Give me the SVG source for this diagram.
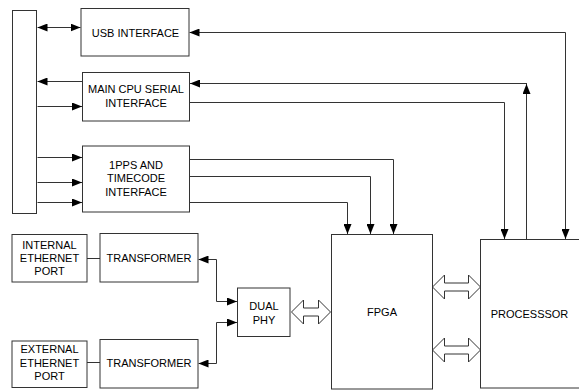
<svg xmlns="http://www.w3.org/2000/svg" width="579" height="390" viewBox="0 0 579 390">
  <defs>
    <marker id="ah" viewBox="0 0 10 8" markerUnits="userSpaceOnUse" markerWidth="10" markerHeight="8" refX="10" refY="4" orient="auto-start-reverse">
      <path d="M0,0 L10,4 L0,8 z" fill="#000"/>
    </marker>
  </defs>
  <style>
    rect { fill: #fff; stroke: #333; stroke-width: 1; }
    text { font-family: "Liberation Sans", Arial, sans-serif; font-size: 11px; fill: #000; text-anchor: middle; }
    .w { fill: none; stroke: #333; stroke-width: 1; }
    .a { marker-end: url(#ah); }
    .b { marker-start: url(#ah); marker-end: url(#ah); }
    .blk { fill: #fff; stroke: #333; stroke-width: 1; stroke-linejoin: miter; }
  </style>
  <rect width="579" height="390" style="fill:#fff;stroke:none"/>

  <!-- connectors -->
  <g id="connectors">
    <!-- bus links -->
    <path class="w b" d="M37.5,27.5 H80.5"/>
    <path class="w a" d="M82,81.5 H37.5"/>
    <path class="w a" d="M37.5,106.5 H82"/>
    <path class="w a" d="M37.5,157.5 H82"/>
    <path class="w a" d="M37.5,182.5 H82"/>
    <path class="w a" d="M37.5,202.5 H82"/>
    <!-- processor links -->
    <path class="w b" d="M189.5,32.5 H565.5 V239"/>
    <path class="w a" d="M526.5,239 V84"/>
    <path class="w a" d="M527,83.5 H190"/>
    <path class="w a" d="M190,102.5 H504.5 V239"/>
    <!-- timing to FPGA -->
    <path class="w a" d="M190,159.5 H393.5 V234"/>
    <path class="w a" d="M190,176.5 H370.5 V234"/>
    <path class="w a" d="M190,202.5 H347.5 V234"/>
    <!-- ethernet -->
    <path class="w" d="M87,258.5 H100"/>
    <path class="w" d="M87,362.5 H100"/>
    <path class="w b" d="M198.5,259.5 H216.5 V301.5 H237"/>
    <path class="w b" d="M198.5,363.5 H216.5 V322.5 H237"/>
    <!-- buses -->
    <polygon class="blk" points="291.5,312 303.5,300 303.5,308 318.5,308 318.5,300 330.5,312 318.5,324 318.5,316 303.5,316 303.5,324"/>
    <polygon class="blk" points="432.5,287 444.5,275 444.5,283 468.5,283 468.5,275 480.5,287 468.5,299 468.5,291 444.5,291 444.5,299"/>
    <polygon class="blk" points="432.5,350 444.5,338 444.5,346 468.5,346 468.5,338 480.5,350 468.5,362 468.5,354 444.5,354 444.5,362"/>
  </g>

  <g id="bus">
    <rect x="12.5" y="10.5" width="24" height="203"/>
  </g>
  <g id="usb">
    <rect x="81" y="8.5" width="108" height="47.5"/>
    <text x="135.5" y="36.5">USB INTERFACE</text>
  </g>
  <g id="cpu-serial">
    <rect x="82.5" y="72.5" width="107" height="48.5"/>
    <text x="136" y="93">MAIN CPU SERIAL</text>
    <text x="136" y="106.5">INTERFACE</text>
  </g>
  <g id="pps">
    <rect x="82.5" y="146" width="107" height="66"/>
    <text x="136" y="168.5">1PPS AND</text>
    <text x="136" y="182">TIMECODE</text>
    <text x="136" y="195.5">INTERFACE</text>
  </g>
  <g id="int-port">
    <rect x="12" y="234.5" width="75" height="47.5"/>
    <text x="49.5" y="249">INTERNAL</text>
    <text x="49.5" y="262">ETHERNET</text>
    <text x="49.5" y="275">PORT</text>
  </g>
  <g id="xfmr1">
    <rect x="100" y="233.5" width="98" height="48.5"/>
    <text x="149" y="262">TRANSFORMER</text>
  </g>
  <g id="ext-port">
    <rect x="12" y="341" width="75" height="46.5"/>
    <text x="49.5" y="353">EXTERNAL</text>
    <text x="49.5" y="366.5">ETHERNET</text>
    <text x="49.5" y="379.5">PORT</text>
  </g>
  <g id="xfmr2">
    <rect x="100" y="339.5" width="98" height="48.5"/>
    <text x="149" y="367">TRANSFORMER</text>
  </g>
  <g id="phy">
    <rect x="237.5" y="288" width="52.5" height="48.5"/>
    <text x="264" y="310">DUAL</text>
    <text x="264" y="323.5">PHY</text>
  </g>
  <g id="fpga">
    <rect x="331.5" y="234.5" width="101" height="154.5"/>
    <text x="382" y="315.5">FPGA</text>
  </g>
  <g id="processor">
    <rect x="480.5" y="239.5" width="110" height="148.5"/>
    <text x="529.5" y="318">PROCESSSOR</text>
  </g>
</svg>
